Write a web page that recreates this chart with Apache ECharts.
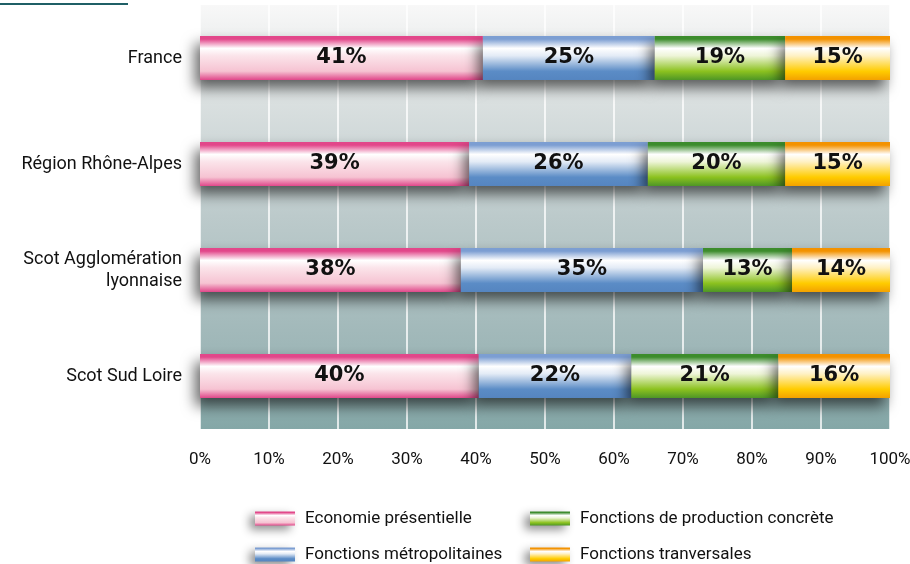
<!DOCTYPE html>
<html>
<head>
<meta charset="utf-8">
<script src="https://cdn.jsdelivr.net/npm/echarts@6/dist/echarts.min.js"></script>
<style>
html,body{margin:0;padding:0;background:#fff;}
#chart{width:910px;height:564px;}
</style>
</head>
<body>
<div id="chart"></div>
<script>
const categories = ['France', 'Région Rhône-Alpes', 'Scot Agglomération\nlyonnaise', 'Scot Sud Loire'];
const economiePresentielle = [41, 39, 37.8, 40.4];
const fonctionsMetropolitaines = [24.9, 25.9, 35.1, 22.1];
const fonctionsProduction = [18.9, 19.9, 12.9, 21.3];
const fonctionsTransversales = [15.2, 15.2, 14.2, 16.2];
const xTicks = [0, 10, 20, 30, 40, 50, 60, 70, 80, 90, 100];
const seriesNames = ['Economie présentielle', 'Fonctions métropolitaines', 'Fonctions de production concrète', 'Fonctions tranversales'];

const FONT = 'Roboto, "Liberation Sans", sans-serif';

function grad(edge, mid, low, bottom) {
  return new echarts.graphic.LinearGradient(0, 0, 0, 1, [
    {offset: 0, color: edge},
    {offset: 0.07, color: edge},
    {offset: 0.28, color: '#ffffff'},
    {offset: 0.45, color: mid},
    {offset: 0.8, color: low},
    {offset: 1, color: bottom}
  ]);
}
const fills = [
  grad('#e2478a', '#fbe4ea', '#f6c3d2', '#e0478a'),
  grad('#7c9ed2', '#e3ebf6', '#5b8cc6', '#5585c0'),
  grad('#3c8c2c', '#eef5d8', '#8cc21f', '#4e9626'),
  grad('#f39200', '#fff1c4', '#ffcc00', '#f3a100')
];
const dataSets = [economiePresentielle, fonctionsMetropolitaines, fonctionsProduction, fonctionsTransversales];

const series = dataSets.map((d, i) => ({
  name: seriesNames[i],
  type: 'bar',
  stack: 'total',
  barWidth: 44,
  data: d,
  itemStyle: {
    color: fills[i],
    shadowBlur: 14,
    shadowColor: 'rgba(0,0,0,0.6)',
    shadowOffsetX: -5,
    shadowOffsetY: 8
  },
  label: {
    show: true,
    position: 'inside',
    formatter: p => Math.round(p.value) + '%',
    fontFamily: '"DejaVu Sans", sans-serif',
    fontWeight: 'bold',
    fontSize: 21,
    color: '#111'
  },
  emphasis: {disabled: true}
}));

const legendCommon = {
  orient: 'vertical', top: 510, padding: 0,
  icon: 'rect',
  itemWidth: 40, itemHeight: 14, itemGap: 19,
  itemStyle: {shadowBlur: 10, shadowColor: 'rgba(0,0,0,0.45)', shadowOffsetX: -5, shadowOffsetY: 4},
  textStyle: {fontFamily: FONT, fontSize: 17, color: '#111', padding: [0, 0, 0, 5]},
  selectedMode: false
};

const chart = echarts.init(document.getElementById('chart'), null, {renderer: 'canvas'});
chart.setOption({
  animation: false,
  backgroundColor: '#ffffff',
  graphic: [
    {type: 'rect', shape: {x: 0, y: 3, width: 128, height: 2}, style: {fill: '#1f5f66'}}
  ],
  grid: {
    left: 200, right: 20, top: 5, bottom: 135,
    outerBoundsMode: 'none',
    containLabel: false,
    show: true,
    borderWidth: 0,
    backgroundColor: new echarts.graphic.LinearGradient(0, 0, 0, 1, [
      {offset: 0, color: '#f8f8f8'},
      {offset: 0.2, color: '#dde2e2'},
      {offset: 0.5, color: '#bccacb'},
      {offset: 0.8, color: '#9fb7b8'},
      {offset: 1, color: '#84a7a7'}
    ])
  },
  xAxis: {
    type: 'value',
    min: 0, max: 100, interval: 10,
    axisLine: {show: false},
    axisTick: {show: false},
    splitLine: {show: true, lineStyle: {color: '#ffffff', width: 1.5}},
    axisLabel: {
      formatter: v => xTicks.includes(v) ? v + '%' : '',
      fontFamily: FONT, fontSize: 17, color: '#111', margin: 22
    }
  },
  yAxis: {
    type: 'category',
    inverse: true,
    data: categories,
    axisLine: {show: false},
    axisTick: {show: false},
    splitLine: {show: false},
    axisLabel: {
      fontFamily: FONT, fontSize: 18, color: '#111', margin: 18,
      align: 'right', lineHeight: 22
    }
  },
  legend: [
    Object.assign({left: 255, data: [seriesNames[0], seriesNames[1]]}, legendCommon),
    Object.assign({left: 530, data: [seriesNames[2], seriesNames[3]]}, legendCommon)
  ],
  series: series
});
</script>
</body>
</html>
